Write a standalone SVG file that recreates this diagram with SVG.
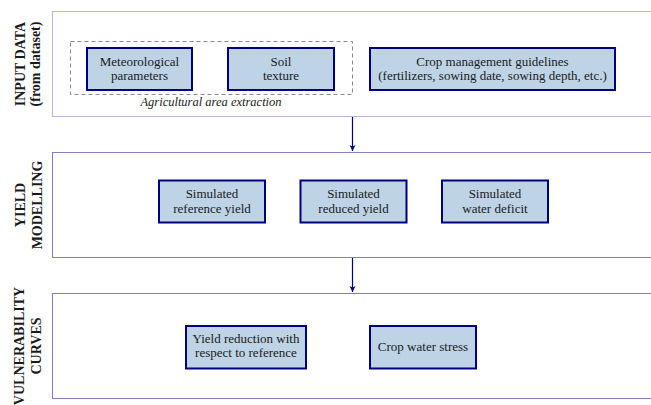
<svg xmlns="http://www.w3.org/2000/svg" width="651" height="405" viewBox="0 0 651 405">
<defs>
<marker id="ah" markerWidth="8" markerHeight="8" refX="6" refY="4" orient="auto" markerUnits="userSpaceOnUse">
<path d="M0,1 L6,4 L0,7 L1.5,4 Z" fill="#000080"/>
</marker>
</defs>
<style>
.panel{fill:#fff;stroke:#8080c0;stroke-width:1}
.panel1{stroke:#b4b4d8}
.box{fill:#bed4e6;stroke:#000080;stroke-width:2}
text{font-family:'Liberation Serif','Times New Roman',serif}
.t{font-size:13px;fill:#1a1a1a;text-anchor:middle}
.lab{font-size:14px;font-weight:bold;fill:#1a1a1a;text-anchor:middle}
.it{font-style:italic;font-size:12.5px}
.conn{stroke:#000080;stroke-width:1.2;fill:none}
</style>
<rect width="651" height="405" fill="#fff"/>
<g id="panel-input">
<rect class="panel panel1" x="52.5" y="11.5" width="610" height="105"/>
<text class="lab" font-family="Liberation Serif, serif" transform="translate(25,64) rotate(-90)">INPUT DATA</text>
<text class="lab" font-family="Liberation Serif, serif" transform="translate(40,64) rotate(-90)">(from dataset)</text>
</g>
<g id="panel-yield">
<rect class="panel" x="52.5" y="152.5" width="610" height="105"/>
<text class="lab" font-family="Liberation Serif, serif" transform="translate(25,205) rotate(-90)">YIELD</text>
<text class="lab" font-family="Liberation Serif, serif" transform="translate(42,205) rotate(-90)">MODELLING</text>
</g>
<g id="panel-vuln">
<rect class="panel" x="52.5" y="293.5" width="610" height="105"/>
<text class="lab" font-family="Liberation Serif, serif" transform="translate(24,346) rotate(-90)">VULNERABILITY</text>
<text class="lab" font-family="Liberation Serif, serif" transform="translate(41,346) rotate(-90)">CURVES</text>
</g>
<g id="area-extraction">
<rect x="70.5" y="41.5" width="282" height="53" fill="none" stroke="#888" stroke-width="1" stroke-dasharray="4,3"/>
<text class="t it" font-family="Liberation Serif, serif" x="211" y="106">Agricultural area extraction</text>
</g>
<g id="meteo">
<rect class="box" x="87" y="48" width="105" height="42"/>
<text class="t" font-family="Liberation Serif, serif" x="139.5" y="66">Meteorological</text>
<text class="t" font-family="Liberation Serif, serif" x="139.5" y="80">parameters</text>
</g>
<g id="soil">
<rect class="box" x="228" y="48" width="106" height="42"/>
<text class="t" font-family="Liberation Serif, serif" x="281" y="66">Soil</text>
<text class="t" font-family="Liberation Serif, serif" x="281" y="80">texture</text>
</g>
<g id="crop-mgmt">
<rect class="box" x="370" y="48" width="245" height="42"/>
<text class="t" font-family="Liberation Serif, serif" x="492.5" y="66">Crop management guidelines</text>
<text class="t" font-family="Liberation Serif, serif" x="492.5" y="80">(fertilizers, sowing date, sowing depth, etc.)</text>
</g>
<g id="ref-yield">
<rect class="box" x="159" y="180.5" width="106" height="42"/>
<text class="t" font-family="Liberation Serif, serif" x="212" y="198">Simulated</text>
<text class="t" font-family="Liberation Serif, serif" x="212" y="213">reference yield</text>
</g>
<g id="red-yield">
<rect class="box" x="300.5" y="180.5" width="106" height="42"/>
<text class="t" font-family="Liberation Serif, serif" x="353.5" y="198">Simulated</text>
<text class="t" font-family="Liberation Serif, serif" x="353.5" y="213">reduced yield</text>
</g>
<g id="water-deficit">
<rect class="box" x="442" y="180.5" width="106" height="42"/>
<text class="t" font-family="Liberation Serif, serif" x="495" y="198">Simulated</text>
<text class="t" font-family="Liberation Serif, serif" x="495" y="213">water deficit</text>
</g>
<g id="yield-reduction">
<rect class="box" x="186" y="326" width="120" height="42.5"/>
<text class="t" font-family="Liberation Serif, serif" x="246" y="343">Yield reduction with</text>
<text class="t" font-family="Liberation Serif, serif" x="246" y="357">respect to reference</text>
</g>
<g id="water-stress">
<rect class="box" x="370" y="326" width="106" height="42.5"/>
<text class="t" font-family="Liberation Serif, serif" x="423" y="351">Crop water stress</text>
</g>
<g id="connectors">
<line class="conn" x1="352.5" y1="117" x2="352.5" y2="151" marker-end="url(#ah)"/>
<line class="conn" x1="352.5" y1="258" x2="352.5" y2="292" marker-end="url(#ah)"/>
</g>
</svg>
